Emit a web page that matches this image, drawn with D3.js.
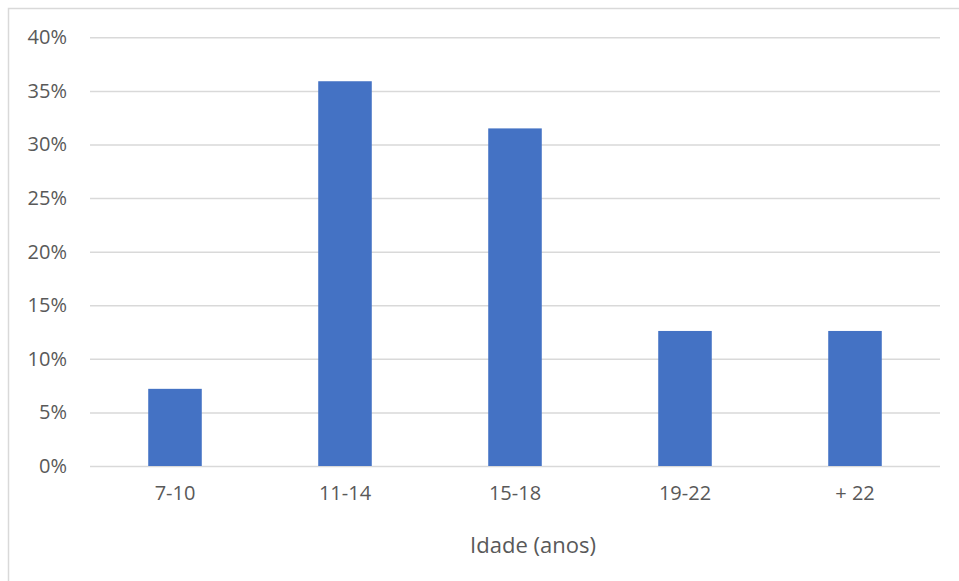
<!DOCTYPE html>
<html>
<head>
<meta charset="utf-8">
<script src="https://cdn.jsdelivr.net/npm/d3@7"></script>
<style>
  html, body { margin: 0; padding: 0; background: #fff; }
  svg { display: block; }
  text { font-family: "Segoe UI", "Open Sans", "Noto Sans", sans-serif; fill: #595959; }
</style>
</head>
<body>
<svg id="chart" width="959" height="581"></svg>
<script>
const categories = ["7-10", "11-14", "15-18", "19-22", "+ 22"];
const values = [0.072, 0.359, 0.315, 0.126, 0.126];
const yTicks = [0, 0.05, 0.10, 0.15, 0.20, 0.25, 0.30, 0.35, 0.40];
const xTitle = "Idade (anos)";

const svg = d3.select("#chart");
const W = 959, H = 581;
const plot = { left: 90, right: 940, top: 37.3, bottom: 466 };

// chart border
svg.append("rect")
  .attr("x", 8.5).attr("y", 8.5)
  .attr("width", W + 10).attr("height", H + 10)
  .attr("fill", "#fff")
  .attr("stroke", "#d9d9d9").attr("stroke-width", 1.5);

const x = d3.scaleBand()
  .domain(categories)
  .range([plot.left, plot.right])
  .paddingInner(0.685)
  .paddingOuter(0.3425);

const y = d3.scaleLinear()
  .domain([0, 0.4])
  .range([plot.bottom, plot.top]);

// gridlines + y labels
const yAxis = svg.append("g")
  .attr("transform", `translate(${plot.left},0)`)
  .call(d3.axisLeft(y)
    .tickValues(yTicks)
    .tickFormat(d3.format(".0%"))
    .tickSize(-(plot.right - plot.left))
    .tickPadding(23));
yAxis.select(".domain").remove();
yAxis.selectAll(".tick line").attr("stroke", "#d9d9d9").attr("stroke-width", 1.5);
yAxis.selectAll(".tick text")
  .style("font-size", "20px")
  .attr("fill", "#595959");

// bars
svg.append("g").selectAll("rect")
  .data(values)
  .join("rect")
  .attr("x", (d, i) => x(categories[i]))
  .attr("width", x.bandwidth())
  .attr("y", d => y(d))
  .attr("height", d => y(0) - y(d))
  .attr("fill", "#4472C4");

// x axis labels
const xAxis = svg.append("g")
  .attr("transform", `translate(0,${plot.bottom})`)
  .call(d3.axisBottom(x).tickSize(0).tickPadding(20));
xAxis.select(".domain").remove();
xAxis.selectAll(".tick text")
  .style("font-size", "20px")
  .attr("fill", "#595959");

// x axis title
svg.append("text")
  .attr("x", 533)
  .attr("y", 553)
  .attr("text-anchor", "middle")
  .style("font-size", "22px")
  .text(xTitle);
</script>
</body>
</html>
